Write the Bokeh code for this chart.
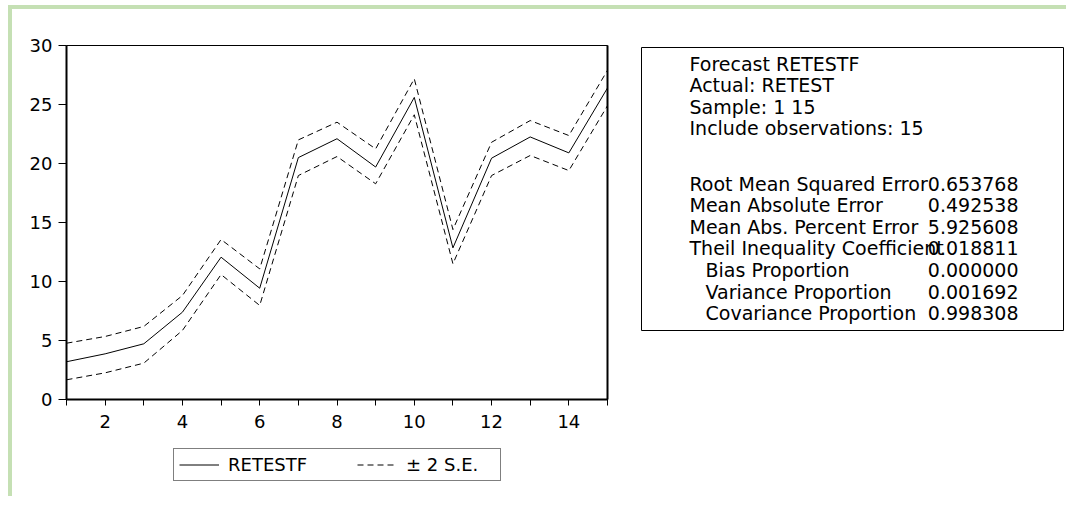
from bokeh.plotting import figure
from bokeh.models import (Range1d, FixedTicker, LinearAxis, Legend, LegendItem,
                          Label, Spacer, Div)
from bokeh.layouts import row, column
from bokeh.embed import file_html
from bokeh.resources import INLINE

# ---------------- data ----------------
periods = [1, 2, 3, 4, 5, 6, 7, 8, 9, 10, 11, 12, 13, 14, 15]
forecast = [3.2, 3.87, 4.72, 7.4, 12.06, 9.43, 20.5, 22.1, 19.7, 25.6, 12.85, 20.45, 22.25, 20.9, 26.4]
upper = [4.77, 5.34, 6.19, 8.81, 13.56, 11.07, 22.0, 23.5, 21.24, 27.18, 14.4, 21.8, 23.64, 22.37, 27.9]
lower = [1.67, 2.26, 3.08, 5.85, 10.59, 7.97, 18.98, 20.59, 18.28, 24.13, 11.5, 18.98, 20.68, 19.4, 24.9]

y_ticks = [0, 5, 10, 15, 20, 25, 30]
x_major_ticks = [2, 4, 6, 8, 10, 12, 14]
x_minor_ticks = [1, 3, 5, 7, 9, 11, 13, 15]

legend_labels = ["RETESTF", "\u00b1 2 S.E."]

header_lines = ["Forecast RETESTF", "Actual: RETEST", "Sample: 1 15", "Include observations: 15"]
stat_names = ["Root Mean Squared Error", "Mean Absolute Error", "Mean Abs. Percent Error",
              "Theil Inequality Coefficient", "Bias Proportion", "Variance Proportion",
              "Covariance Proportion"]
stat_indent = [False, False, False, False, True, True, True]
stat_values = ["0.653768", "0.492538", "5.925608", "0.018811", "0.000000", "0.001692", "0.998308"]

# ---------------- layout constants (page pixels) ----------------
FONT = "DejaVu Sans"
GREEN = "#c5e0b4"
TOTAL_W = 1066
TOP_GAP = 5
GREEN_W = 4
LEFT_GAP = 8
BODY_TOP = TOP_GAP + GREEN_W          # 9
BODY_H = 487
A_LEFT = LEFT_GAP + GREEN_W            # 12
A_W = 618
B_W = TOTAL_W - A_LEFT - A_W           # 436
FRAME_L, FRAME_R, FRAME_T, FRAME_B = 66, 607, 45, 399
A_H = 425
C_H = BODY_H - A_H


def green_bar(w, h):
    return Div(text="", width=w, height=h, margin=0,
               styles={"background-color": GREEN, "width": f"{w}px", "height": f"{h}px",
                       "margin": "0", "padding": "0"})


# ---------------- main chart ----------------
p = figure(width=A_W, height=A_H, output_backend="svg", toolbar_location=None,
           x_range=Range1d(1, 15), y_range=Range1d(0, 30),
           min_border_left=FRAME_L - A_LEFT, min_border_top=FRAME_T - BODY_TOP,
           min_border_right=A_LEFT + A_W - FRAME_R,
           min_border_bottom=BODY_TOP + A_H - FRAME_B)
p.background_fill_color = "white"
p.border_fill_color = "white"
p.outline_line_color = "black"
p.outline_line_width = 1
p.grid.visible = False

xa = p.xaxis[0]
xa.ticker = FixedTicker(ticks=x_major_ticks, minor_ticks=x_minor_ticks)
xa.axis_line_width = 2
xa.axis_line_color = "black"
xa.major_tick_in = 0
xa.major_tick_out = 6
xa.minor_tick_in = 0
xa.minor_tick_out = 6
xa.minor_tick_line_color = "black"
xa.major_tick_line_color = "black"
xa.major_label_text_font = FONT
xa.major_label_text_font_size = "18px"
xa.major_label_text_color = "black"
xa.major_label_standoff = 9

ya = p.yaxis[0]
ya.ticker = FixedTicker(ticks=y_ticks)
ya.axis_line_width = 2
ya.axis_line_color = "black"
ya.major_tick_in = 0
ya.major_tick_out = 8
ya.minor_tick_line_color = None
ya.major_tick_line_color = "black"
ya.major_label_text_font = FONT
ya.major_label_text_font_size = "18px"
ya.major_label_text_color = "black"
ya.major_label_standoff = 6

ra = LinearAxis(ticker=FixedTicker(ticks=[]), axis_line_width=2, axis_line_color="black",
                major_tick_line_color=None, minor_tick_line_color=None)
p.add_layout(ra, "right")

p.line(periods, forecast, line_color="black", line_width=1)
p.line(periods, upper, line_color="black", line_width=1, line_dash="6 4")
p.line(periods, lower, line_color="black", line_width=1, line_dash="6 4")

# ---------------- legend (own small canvas under the chart) ----------------
c = figure(width=A_W, height=C_H, output_backend="svg", toolbar_location=None,
           min_border=0, x_axis_location=None, y_axis_location=None,
           x_range=Range1d(100, 101), y_range=Range1d(100, 101))
c.background_fill_color = "white"
c.border_fill_color = "white"
c.outline_line_color = None
c.grid.visible = False
# same series, drawn out of view: only their styles feed the legend keys
lg_solid = c.line(periods, forecast, line_color="black", line_width=1)
lg_dash = c.line(periods, upper, line_color="black", line_width=1, line_dash="6 4")
legend = Legend(items=[LegendItem(label=legend_labels[0], renderers=[lg_solid]),
                       LegendItem(label=legend_labels[1], renderers=[lg_dash])],
                location=(173 - FRAME_L, BODY_TOP + BODY_H - 481), orientation="horizontal",
                border_line_color="black", border_line_width=1,
                background_fill_color="white", background_fill_alpha=1,
                padding=5, spacing=40, margin=0,
                glyph_width=40, glyph_height=15, label_height=15, label_width=89,
                label_standoff=9, label_text_font=FONT, label_text_font_size="18px",
                label_text_color="black")
c.add_layout(legend)

# ---------------- statistics box ----------------
BOX_L, BOX_R, BOX_T, BOX_B = 641, 1063, 47, 330
s = figure(width=B_W, height=BODY_H, output_backend="svg", toolbar_location=None,
           x_axis_location=None, y_axis_location=None,
           x_range=Range1d(BOX_L, BOX_R), y_range=Range1d(BOX_B, BOX_T),
           min_border_left=BOX_L - (A_LEFT + A_W), min_border_right=TOTAL_W - BOX_R,
           min_border_top=BOX_T - BODY_TOP, min_border_bottom=BODY_TOP + BODY_H - BOX_B)
s.background_fill_color = "white"
s.border_fill_color = "white"
s.outline_line_color = "black"
s.outline_line_width = 1
s.grid.visible = False

ROW = 21.6
TEXT_X = 689
INDENT_X = 705
VALUE_RIGHT = 1018
for i, line in enumerate(header_lines):
    s.add_layout(Label(x=TEXT_X, y=63 + i * ROW, text=line, text_font=FONT,
                       text_font_size="19px", text_color="black",
                       text_baseline="middle", text_align="left"))
for i, (name, ind, val) in enumerate(zip(stat_names, stat_indent, stat_values)):
    yy = 183 + i * ROW
    s.add_layout(Label(x=INDENT_X if ind else TEXT_X, y=yy, text=name, text_font=FONT,
                       text_font_size="19px", text_color="black",
                       text_baseline="middle", text_align="left"))
    s.add_layout(Label(x=VALUE_RIGHT, y=yy, text=val, text_font=FONT,
                       text_font_size="19px", text_color="black",
                       text_baseline="middle", text_align="right"))

# ---------------- assemble with the green frame ----------------
layout = column(
    Spacer(width=TOTAL_W, height=TOP_GAP, margin=0),
    row(Spacer(width=LEFT_GAP, height=GREEN_W, margin=0), green_bar(TOTAL_W - LEFT_GAP, GREEN_W)),
    row(Spacer(width=LEFT_GAP, height=BODY_H, margin=0), green_bar(GREEN_W, BODY_H),
        column(p, c), s),
)

open("out.html", "w").write(file_html(layout, INLINE))
